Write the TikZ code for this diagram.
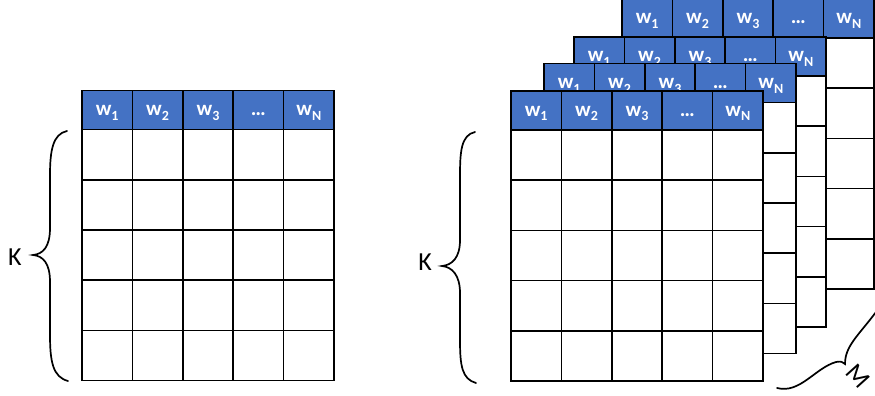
\documentclass[tikz,border=0pt]{standalone}
\usepackage{fontspec}
\setmainfont{Carlito}
\definecolor{hdrblue}{HTML}{4472C4}
\tikzset{
 cell/.style={draw=black, line width=1.6pt, fill=white, minimum width=50.4pt, minimum height=50.2pt, inner sep=0pt, outer sep=0pt, anchor=north west},
 hcell/.style={cell, fill=hdrblue, minimum height=39pt, text height=16pt, text depth=5pt, text=white, font=\fontsize{21}{21}\selectfont\bfseries},
 bracepath/.style={draw=black, line width=1.7pt, line cap=round},
 lbl/.style={font=\fontsize{26}{26}\selectfont, inner sep=0pt}
}
\newcommand{\wsub}[1]{w\raisebox{-0.45ex}{\fontsize{14}{14}\selectfont #1}}
\newcommand{\matgrid}[3]{%
 \foreach \c/\t in {0/{\wsub{1}},1/{\wsub{2}},2/{\wsub{3}},3/{…},4/{\wsub{N}}}{
   \node[hcell] (#1-h\c) at ({#2+\c*50.4},{#3}) {\t};
 }
 \foreach \r in {0,...,4}{ \foreach \c in {0,...,4}{
   \node[cell] (#1-\r-\c) at ({#2+\c*50.4},{#3+39+\r*50.2}) {};
 }}
}
\begin{document}
\begin{tikzpicture}[x=1pt,y=-1pt]
\useasboundingbox (0,0) rectangle (875,396);
% left grid
\matgrid{A}{82}{90.5}
% stacked grids, back to front
\matgrid{D}{622}{-1}
\matgrid{C}{574}{37}
\matgrid{B}{544}{63.5}
\matgrid{F}{511}{91}
% braces
\draw[bracepath] (67,131) .. controls (53,134) and (50,150) .. (50,175) -- (50,228)
  .. controls (50,247) and (43,254) .. (33,255)
  .. controls (43,256) and (50,263) .. (50,282) -- (50,335)
  .. controls (50,362) and (53,377) .. (68,381);
\draw[bracepath] (475,132) .. controls (461,135) and (460,152) .. (460,176) -- (460,240)
  .. controls (460,258) and (452,265) .. (442,266)
  .. controls (452,267) and (460,275) .. (460,293) -- (460,340)
  .. controls (460,366) and (462,379) .. (476,383);
\draw[bracepath] (777,388) .. controls (800,394) and (815,368) .. (836,362)
  .. controls (841,361) and (843,362) .. (845,364)
  .. controls (845,346) and (858,336) .. (876,312);
% labels
\node[lbl] (K1) at (15,257) {K};
\node[lbl] (K2) at (425,262) {K};
\node[lbl, rotate=-48] (M) at (858,376) {M};
\end{tikzpicture}
\end{document}
